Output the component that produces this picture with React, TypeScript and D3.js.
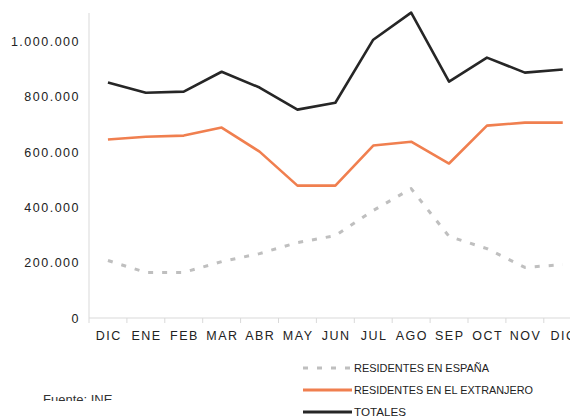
import React from "react";
import * as d3 from "d3";

const categories = ["DIC", "ENE", "FEB", "MAR", "ABR", "MAY", "JUN", "JUL", "AGO", "SEP", "OCT", "NOV", "DIC"];
const residentesEspana = [208000, 165000, 165000, 204000, 233000, 273000, 298000, 389000, 468000, 295000, 251000, 183000, 193000];
const residentesExtranjero = [646000, 656000, 660000, 689000, 602000, 479000, 479000, 624000, 638000, 559000, 696000, 707000, 707000];
const totales = [852000, 815000, 819000, 891000, 834000, 754000, 779000, 1007000, 1105000, 855000, 942000, 888000, 899000];
const yTicks = [0, 200000, 400000, 600000, 800000, 1000000];
const legendLabels = ["RESIDENTES EN ESPAÑA", "RESIDENTES EN EL EXTRANJERO", "TOTALES"];
const sourceText = "Fuente:  INE";

const W = 570;
const H = 417;

export default function App() {
  const left = 89;
  const step = 37.9;
  const x = d3
    .scaleBand<number>()
    .domain(categories.map((_, i) => i))
    .range([left, left + step * categories.length])
    .paddingInner(0)
    .paddingOuter(0);
  const y = d3.scaleLinear().domain([0, 1100000]).range([318, 14]);
  const fmt = d3.formatLocale({ decimal: ",", thousands: ".", grouping: [3], currency: ["", ""] }).format(",d");
  const cx = (i: number) => (x(i) as number) + x.bandwidth() / 2;
  const line = d3
    .line<number>()
    .x((_, i) => cx(i))
    .y((d) => y(d));

  const series = [
    { data: residentesEspana, color: "#BFBFBF", dash: "5,9", width: 3 },
    { data: residentesExtranjero, color: "#F07F4F", dash: undefined, width: 2.6 },
    { data: totales, color: "#262626", dash: undefined, width: 2.6 },
  ];
  const legendWidths = [135, 179, 52];
  const legendY = [368, 390, 412];

  return (
    <div style={{ position: "absolute", left: 0, top: 0 }}>
      <svg width={W} height={H} style={{ display: "block", fontFamily: "'Liberation Sans', Arial, sans-serif" }}>
        <defs>
          <clipPath id="srcclip">
            <rect x={0} y={0} width={W} height={401} />
          </clipPath>
        </defs>
        <rect width={W} height={H} fill="#fff" />
        <line x1={left} x2={left} y1={y(1100000) - 1} y2={y(0)} stroke="#D9D9D9" strokeWidth={1} />
        <line x1={left} x2={W} y1={y(0)} y2={y(0)} stroke="#D9D9D9" strokeWidth={1} />
        {categories.map((_, i) => (
          <line key={"t" + i} x1={x(i) as number} x2={x(i) as number} y1={y(0)} y2={y(0) + 5} stroke="#D9D9D9" />
        ))}
        {yTicks.map((t) => (
          <text key={t} x={80} y={y(t) + 4.5} textAnchor="end" fontSize={12.5} letterSpacing={1.5} fill="#222">
            {fmt(t)}
          </text>
        ))}
        {categories.map((c, i) => (
          <text key={"c" + i} x={cx(i) + 0.75} y={339.5} textAnchor="middle" fontSize={12.5} letterSpacing={1.5} fill="#222">
            {c}
          </text>
        ))}
        {series.map((s, k) => (
          <path
            key={"s" + k}
            d={line(s.data) || ""}
            fill="none"
            stroke={s.color}
            strokeWidth={s.width}
            strokeDasharray={s.dash}
            strokeLinejoin="round"
          />
        ))}
        {series.map((s, k) => (
          <g key={"l" + k}>
            <line
              x1={303}
              x2={352}
              y1={legendY[k]}
              y2={legendY[k]}
              stroke={s.color}
              strokeWidth={3}
              strokeDasharray={s.dash}
            />
            <text
              x={354}
              y={legendY[k] + 4}
              fontSize={10.5}
              fill="#222"
              textLength={legendWidths[k]}
              lengthAdjust="spacingAndGlyphs"
            >
              {legendLabels[k]}
            </text>
          </g>
        ))}
        <text x={43} y={403.5} fontSize={13} fill="#333" clipPath="url(#srcclip)">
          {sourceText}
        </text>
      </svg>
    </div>
  );
}
